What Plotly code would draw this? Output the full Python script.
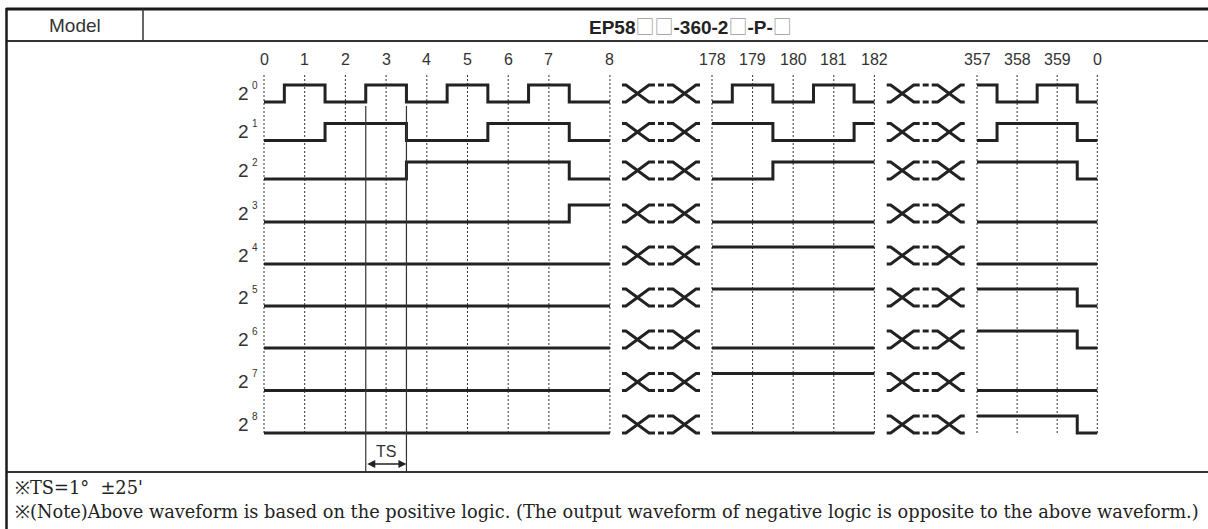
import plotly.graph_objects as go

# ---------------- data ----------------
MODEL_LABEL = "Model"
MODEL_PARTS = ["EP58", "□□", "-360-2", "□", "-P-", "□"]   # "EP58□□-360-2□-P-□"
DEG_LABELS_A = ["0", "1", "2", "3", "4", "5", "6", "7", "8"]
DEG_LABELS_B = ["178", "179", "180", "181", "182"]
DEG_LABELS_C = ["357", "358", "359", "0"]
CODES_A = [0, 1, 2, 3, 4, 5, 6, 7, 8]          # output code of each step
CODES_B = [178, 179, 180, 181, 182]
CODES_C = [357, 358, 359, 0]
BIT_EXPONENTS = [0, 1, 2, 3, 4, 5, 6, 7, 8]
TS_LABEL = "TS"
TS_STEP = 3                                   # step whose width is marked as TS
NOTE_LINE_1 = "※TS=1°  ±25'"
NOTE_LINE_2 = ("※(Note)Above waveform is based on the positive logic. "
               "(The output waveform of negative logic is opposite to the above waveform.)")

# ---------------- layout constants ----------------
W, H = 1208, 529
SEC_X0 = [264, 712, 977]
SEC_PITCH = [40.7, 40.6, 40.1]
SEC_TAIL = [0.5, 0.0, 0.0]
ROW_LOW_Y = [102, 140.5, 179, 222, 264, 306, 348, 390.5, 433]
PULSE_H = 17
GRID_TOP, GRID_BOT = 75, 433
LABEL_Y = 59
INK = "#222222"
TXT = "#333333"
SANS = "Liberation Sans, Arial, sans-serif"
SERIF = "DejaVu Serif, serif"

fig = go.Figure()


def add_line(xs, ys, color=INK, width=1.0, dash="solid", shape="linear"):
    fig.add_trace(go.Scatter(x=xs, y=ys, mode="lines", hoverinfo="skip",
                             line=dict(color=color, width=width, dash=dash, shape=shape)))


sections = [(DEG_LABELS_A, CODES_A), (DEG_LABELS_B, CODES_B), (DEG_LABELS_C, CODES_C)]
sec_bounds = []
sec_edges = []
annotations = []

for k, (labels, codes) in enumerate(sections):
    x0, p, tail = SEC_X0[k], SEC_PITCH[k], SEC_TAIL[k]
    n = len(labels)
    grid = [x0 + i * p for i in range(n - 1)] + [x0 + (n - 1 + tail) * p]
    edges = [x0 + (i + 0.5) * p for i in range(n - 1)]
    sec_bounds.append((grid[0], grid[-1]))
    sec_edges.append(edges)
    # dotted grid lines
    gx, gy = [], []
    for x in grid:
        gx += [x, x, None]
        gy += [GRID_TOP, GRID_BOT, None]
    add_line(gx, gy, color="#333333", width=1, dash="2px,2px")
    # degree labels
    for x, lab in zip(grid, labels):
        annotations.append(dict(x=x, y=LABEL_Y, text=lab, showarrow=False,
                                font=dict(family=SANS, size=16, color=TXT),
                                xanchor="center", yanchor="middle"))
    # waveforms
    for r, b in enumerate(BIT_EXPONENTS):
        low = ROW_LOW_Y[r]
        levels = [low - PULSE_H * ((c >> b) & 1) for c in codes]
        xs = [grid[0]] + edges + [grid[-1]]
        ys = levels + [levels[-1]]
        add_line(xs, ys, color=INK, width=3, shape="hv")

# break symbols between sections
bx, by = [], []
for k in range(len(sections) - 1):
    c = (sec_bounds[k][1] + sec_bounds[k + 1][0]) / 2
    a, e = c - 39, c + 39
    for r in range(len(BIT_EXPONENTS)):
        low = ROW_LOW_Y[r]
        top = low - PULSE_H
        for y1, y2 in ((top, low), (low, top)):
            bx += [a, a + 4, a + 27, a + 33, None]
            by += [y1, y1, y2, y2, None]
            bx += [c - 3, c + 3, None]
            by += [y2, y2, None]
            bx += [e - 33, e - 27, e - 4, e, None]
            by += [y2, y2, y1, y1, None]
add_line(bx, by, color=INK, width=3)

# row labels 2^n
for r, b in enumerate(BIT_EXPONENTS):
    low = ROW_LOW_Y[r]
    annotations.append(dict(x=243, y=low - 9, text="2", showarrow=False,
                            font=dict(family=SANS, size=19, color=TXT),
                            xanchor="center", yanchor="middle"))
    annotations.append(dict(x=255, y=low - 17, text=str(b), showarrow=False,
                            font=dict(family=SANS, size=10, color=TXT),
                            xanchor="center", yanchor="middle"))

# TS marker
edgesA = sec_edges[0]
ts_l, ts_r = edgesA[TS_STEP - 1], edgesA[TS_STEP]
add_line([ts_l, ts_l, None, ts_r, ts_r], [106, 472, None, 106, 472], color="#333333", width=1.2)
annotations.append(dict(x=(ts_l + ts_r) / 2, y=451, text=TS_LABEL, showarrow=False,
                        font=dict(family=SANS, size=16, color=TXT),
                        xanchor="center", yanchor="middle"))
annotations.append(dict(x=ts_r, y=464, ax=ts_l, ay=464, axref="x", ayref="y",
                        xref="x", yref="y", text="", showarrow=True,
                        arrowhead=2, arrowside="end+start", arrowsize=1,
                        arrowwidth=1.6, arrowcolor=INK, standoff=0, startstandoff=0))

# header texts
annotations.append(dict(x=75, y=25, text=MODEL_LABEL, showarrow=False,
                        font=dict(family=SANS, size=19, color=TXT),
                        xanchor="center", yanchor="middle"))
model_html = ""
for part in MODEL_PARTS:
    if "□" in part:
        model_html += ("<span style=\"font-family:'Noto Sans CJK JP';font-weight:normal;"
                       "color:#9a9a9a\">" + part + "</span>")
    else:
        model_html += "<b>" + part + "</b>"
annotations.append(dict(x=690, y=25, text=model_html, showarrow=False,
                        font=dict(family=SANS, size=19, color="#222222"),
                        xanchor="center", yanchor="middle"))

# notes
annotations.append(dict(x=13, y=487, text=NOTE_LINE_1, showarrow=False,
                        font=dict(family=SERIF, size=17.8, color="#222222"),
                        xanchor="left", yanchor="middle"))
annotations.append(dict(x=13, y=511, text=NOTE_LINE_2, showarrow=False,
                        font=dict(family=SERIF, size=17.8, color="#222222"),
                        xanchor="left", yanchor="middle"))

for a in annotations:
    a.setdefault("xref", "x")
    a.setdefault("yref", "y")

# table frame
shapes = [
    dict(type="line", x0=6, x1=W, y0=9, y1=9, line=dict(color="#1a1a1a", width=3)),
    dict(type="line", x0=6, x1=W, y0=41, y1=41, line=dict(color="#333333", width=2)),
    dict(type="line", x0=6, x1=W, y0=472, y1=472, line=dict(color="#333333", width=2)),
    dict(type="line", x0=6.5, x1=6.5, y0=8, y1=H, line=dict(color="#1a1a1a", width=2.5)),
    dict(type="line", x0=143, x1=143, y0=9, y1=41, line=dict(color="#333333", width=1.5)),
]
for s in shapes:
    s["xref"] = "x"
    s["yref"] = "y"
    s["layer"] = "below"

fig.update_layout(
    width=W, height=H, margin=dict(l=0, r=0, t=0, b=0),
    paper_bgcolor="white", plot_bgcolor="white", showlegend=False,
    xaxis=dict(range=[0, W], visible=False, fixedrange=True),
    yaxis=dict(range=[H, 0], visible=False, fixedrange=True),
    annotations=annotations, shapes=shapes,
)

fig.write_html("out.html", config={"displayModeBar": False},
               post_script="document.body.style.margin='0';document.body.style.overflow='hidden';")
